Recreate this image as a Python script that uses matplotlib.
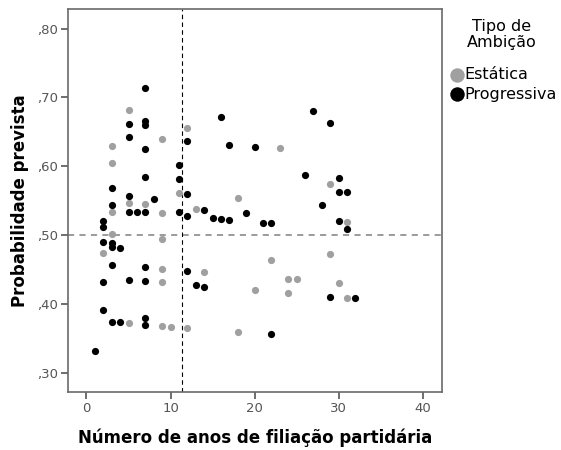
import matplotlib
matplotlib.use("Agg")
import matplotlib.pyplot as plt

# anos de filiação (x) e probabilidade prevista (y) por tipo de ambição
estatica_anos = [3, 3, 5, 9, 12, 11, 18, 5, 3, 7, 9, 13, 3, 2, 9, 9, 14, 9, 20,
                 5, 9, 10, 12, 18, 23, 29, 31, 29, 22, 24, 25, 24, 30, 31]
estatica_prob = [0.629, 0.604, 0.681, 0.640, 0.656, 0.561, 0.554, 0.546, 0.533,
                 0.545, 0.532, 0.538, 0.501, 0.474, 0.494, 0.451, 0.446, 0.431,
                 0.420, 0.372, 0.368, 0.367, 0.365, 0.359, 0.626, 0.574, 0.519,
                 0.473, 0.463, 0.436, 0.436, 0.416, 0.430, 0.408]

progressiva_anos = [7, 5, 7, 7, 5, 7, 12, 16, 17, 20, 11, 11, 7, 3, 5, 8, 12, 3,
                    5, 6, 7, 11, 12, 14, 15, 16, 17, 19, 2, 2, 2, 3, 3, 4, 3, 7,
                    12, 2, 5, 7, 13, 14, 2, 3, 4, 7, 7, 1, 27, 29, 26, 30, 30, 31,
                    28, 21, 22, 30, 31, 29, 32, 22]
progressiva_prob = [0.714, 0.661, 0.665, 0.660, 0.642, 0.625, 0.636, 0.671,
                    0.631, 0.628, 0.602, 0.581, 0.585, 0.569, 0.557, 0.553,
                    0.560, 0.543, 0.534, 0.533, 0.533, 0.533, 0.528, 0.537,
                    0.525, 0.523, 0.522, 0.532, 0.521, 0.511, 0.490, 0.489,
                    0.483, 0.481, 0.457, 0.453, 0.448, 0.432, 0.435, 0.433,
                    0.427, 0.425, 0.391, 0.373, 0.373, 0.380, 0.369, 0.331,
                    0.680, 0.663, 0.587, 0.583, 0.562, 0.562, 0.544, 0.518,
                    0.518, 0.521, 0.509, 0.410, 0.408, 0.356]

media_anos = 11.38
corte_prob = 0.50

xticks = [0, 10, 20, 30, 40]
yticks = [0.30, 0.40, 0.50, 0.60, 0.70, 0.80]
ytick_labels = [",30", ",40", ",50", ",60", ",70", ",80"]

fig = plt.figure(figsize=(5.61, 4.5), dpi=100)
ax = fig.add_axes([68 / 561, 1 - 392 / 450, 374 / 561, 383 / 450])

ax.axhline(corte_prob, color="#808080", lw=1.1, ls=(0, (4, 3.5)), zorder=1)
ax.axvline(media_anos, color="black", lw=0.8, ls=(0, (4, 3)), zorder=1)

g = ax.scatter(estatica_anos, estatica_prob, s=27, color="#a0a0a0",
               linewidths=0, label="Estática", zorder=2)
b = ax.scatter(progressiva_anos, progressiva_prob, s=27, color="black",
               linewidths=0, label="Progressiva", zorder=3)

ax.set_xlim(-2.2, 42.3)
ax.set_ylim(0.2718, 0.8285)
ax.set_xticks(xticks)
ax.set_yticks(yticks)
ax.set_yticklabels(ytick_labels)

for sp in ax.spines.values():
    sp.set_color("#6a6a6a")
    sp.set_linewidth(1.2)
ax.tick_params(axis="both", colors="#555555", labelsize=9.5, length=5,
               width=1.2, pad=2)

ax.set_xlabel("Número de anos de filiação partidária", fontsize=12,
              fontweight="bold", labelpad=10)
ax.set_ylabel("Probabilidade prevista", fontsize=12, fontweight="bold",
              labelpad=6)

# título da legenda centrado sobre os itens
fig.text(502 / 561, 1 - 19 / 450, "Tipo de\nAmbição", ha="center", va="top",
         fontsize=11.5, linespacing=1.12)
fig.legend(handles=[g, b], loc="upper left",
           bbox_to_anchor=(441 / 561, 1 - 56 / 450),
           fontsize=11.5, frameon=False, markerscale=2.0, handlelength=0.6,
           handletextpad=0.15, labelspacing=0.28, borderpad=0.2)

fig.savefig("out.png", dpi=100)
